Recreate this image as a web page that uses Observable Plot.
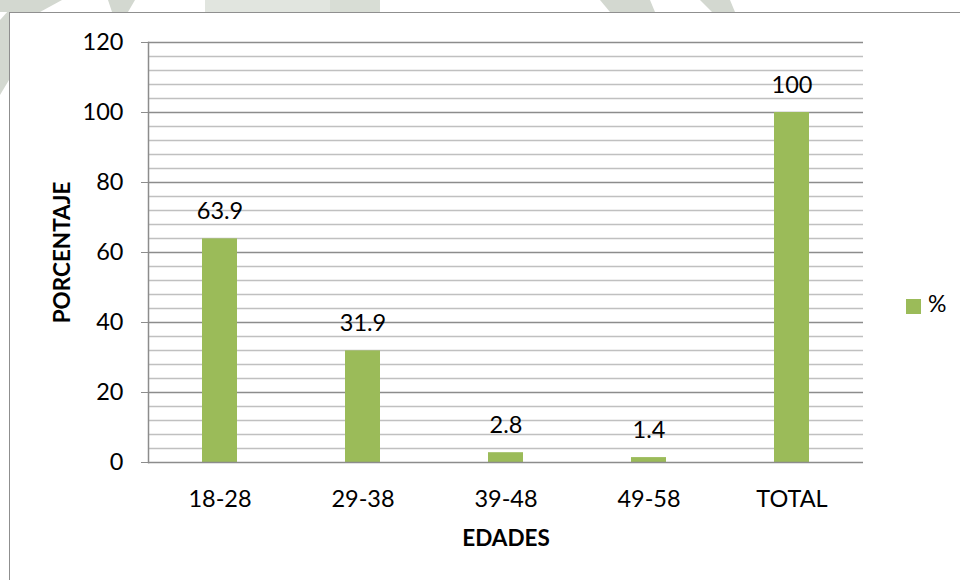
<!DOCTYPE html>
<html>
<head>
<meta charset="utf-8">
<script src="https://cdn.jsdelivr.net/npm/d3@7"></script>
<script src="https://cdn.jsdelivr.net/npm/@observablehq/plot@0.6"></script>
<style>
  html, body { margin: 0; padding: 0; background: #fff; }
  #wrap { position: relative; width: 960px; height: 580px; overflow: hidden; font-family: Lato, "Open Sans", sans-serif; }
  #bg { position: absolute; left: 0; top: 0; }
  #panel { position: absolute; left: 9px; top: 12px; width: 980px; height: 600px;
           border-left: 1.5px solid #8f8f8f; border-top: 1.5px solid #8f8f8f; background: #fff; }
  #chart { position: absolute; left: 0; top: 0; }
  #legend { position: absolute; left: 906px; top: 289px; display: flex; align-items: center;
            font-size: 23px; color: #000; }
  #legend .sw { width: 15px; height: 15px; background: #9bbb59; margin-right: 7px; margin-top: 6px; }
</style>
</head>
<body>
<div id="wrap">
  <svg id="bg" width="960" height="580">
    <g fill="#d3d8d0">
      <polygon points="0,0 62,0 40,12 0,12"/>
      <polygon points="0,20 9,10 9,80 0,95"/>
      <polygon points="108,0 135,0 128,12 112,12"/>
      <polygon points="205,0 330,0 330,12 205,12" fill="#e1e5df"/>
      <polygon points="330,0 380,0 380,12 330,12" fill="#d8ddd5"/>
      <polygon points="600,0 650,0 655,12 610,12"/>
      <polygon points="700,0 730,0 735,12 712,12"/>
    </g>
  </svg>
  <div id="panel"></div>
  <div id="chart"></div>
  <div id="legend"><div class="sw"></div><span>%</span></div>
</div>
<script>
// Age groups and their share of respondents (%)
const edades = ["18-28", "29-38", "39-48", "49-58", "TOTAL"];
const porcentajes = [63.9, 31.9, 2.8, 1.4, 100];
const yTicks = [0, 20, 40, 60, 80, 100, 120];

const data = edades.map((e, i) => ({edad: e, pct: porcentajes[i]}));
const minorTicks = d3.range(4, 120, 4).filter(v => v % 20 !== 0);
const majorTicks = yTicks.filter(v => v > 0);

const chart = Plot.plot({
  width: 960,
  height: 580,
  marginLeft: 148,
  marginRight: 97,
  marginTop: 42,
  marginBottom: 118,
  style: {fontFamily: "Lato, 'Open Sans', sans-serif", fontSize: "23px", color: "#000", background: "transparent"},
  // equal-width category slots, each bar centred in its slot
  x: {domain: edades, paddingInner: 0.755, paddingOuter: 0.3775, label: null},
  y: {domain: [0, 120], label: null},
  marks: [
    Plot.ruleY(minorTicks, {stroke: "#c0c0c0", strokeWidth: 1.3}),
    Plot.ruleY(majorTicks, {stroke: "#8c8c8c", strokeWidth: 1.3}),
    Plot.barY(data, {x: "edad", y: "pct", fill: "#9bbb59"}),
    Plot.ruleY([0], {stroke: "#8c8c8c", strokeWidth: 1.5}),
    Plot.frame({anchor: "left", stroke: "#8c8c8c", strokeWidth: 1.5}),
    Plot.axisY(yTicks, {tickSize: 7, tickPadding: 18, stroke: "#8c8c8c", fill: "#000", strokeOpacity: 1, fontSize: 23.5, label: null}),
    Plot.axisX({tickSize: 0, tickPadding: 28, fill: "#000", fontSize: 23.5, label: null}),
    Plot.text(data, {x: "edad", y: "pct", text: d => String(d.pct), dy: -27, fill: "#000", fontSize: 23.5}),
    Plot.text(["PORCENTAJE"], {frameAnchor: "left", textAnchor: "middle", dx: -86, rotate: -90, fontWeight: "bold", fontSize: 22.5, fill: "#000"}),
    Plot.text(["EDADES"], {frameAnchor: "bottom", textAnchor: "middle", lineAnchor: "middle", dy: 76, fontWeight: "bold", fontSize: 22.5, fill: "#000"})
  ]
});
document.getElementById("chart").append(chart);
</script>
</body>
</html>
